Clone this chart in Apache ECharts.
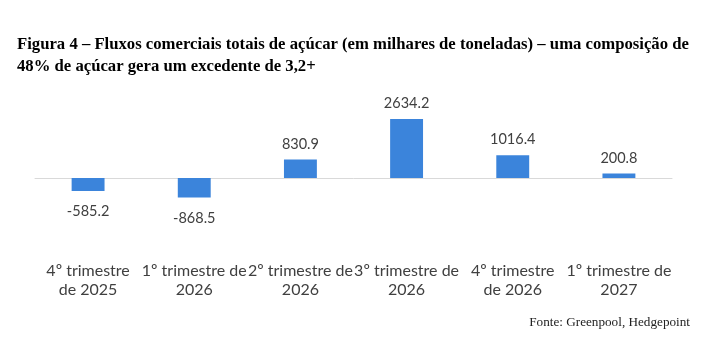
<!DOCTYPE html>
<html>
<head>
<meta charset="utf-8">
<script src="https://cdn.jsdelivr.net/npm/echarts@6/dist/echarts.min.js"></script>
<style>
  html, body { margin: 0; padding: 0; background: #fff; }
  #chart { width: 708px; height: 347px; }
</style>
</head>
<body>
<div id="chart"></div>
<script>
// Trade flow per quarter (thousand tonnes)
const categories = [
  '4º trimestre\nde 2025',
  '1º trimestre de\n2026',
  '2º trimestre de\n2026',
  '3º trimestre de\n2026',
  '4º trimestre\nde 2026',
  '1º trimestre de\n2027'
];
const values = [-585.2, -868.5, 830.9, 2634.2, 1016.4, 200.8];

const titleText = 'Figura 4 – Fluxos comerciais totais de açúcar (em milhares de toneladas) – uma composição de\n48% de açúcar gera um excedente de 3,2+';
const sourceText = 'Fonte: Greenpool, Hedgepoint';

const chart = echarts.init(document.getElementById('chart'), null, { renderer: 'canvas' });

const sansFont = 'Lato, "Noto Sans", sans-serif';
const serifFont = '"Liberation Serif", "Times New Roman", serif';

chart.setOption({
  animation: false,
  backgroundColor: '#ffffff',
  title: [
    {
      text: titleText,
      left: 17,
      top: 34,
      padding: 0,
      textStyle: {
        fontFamily: serifFont,
        fontWeight: 'bold',
        fontSize: 16.7,
        lineHeight: 22,
        color: '#000000'
      }
    },
    {
      text: sourceText,
      right: 18,
      top: 316,
      padding: 0,
      textStyle: {
        fontFamily: serifFont,
        fontWeight: 'normal',
        fontSize: 13.2,
        color: '#222222'
      }
    }
  ],
  grid: { left: 35, right: 36, top: 110.8, bottom: 146.6 },
  xAxis: {
    type: 'category',
    data: categories,
    axisLine: { show: true, onZero: true, lineStyle: { color: '#d9d9d9', width: 1 } },
    axisTick: { show: false },
    axisLabel: {
      interval: 0,
      margin: 61,
      fontFamily: sansFont,
      fontSize: 16,
      lineHeight: 19,
      color: '#404040'
    }
  },
  yAxis: {
    type: 'value',
    min: -1000,
    max: 3000,
    show: false,
    splitLine: { show: false }
  },
  series: [{
    type: 'bar',
    barWidth: '31%',
    data: values.map(v => ({
      value: v,
      label: {
        show: true,
        position: v < 0 ? 'bottom' : 'top',
        distance: v < 0 ? 13 : 8
      }
    })),
    itemStyle: { color: '#3b84db' },
    label: {
      show: true,
      fontFamily: sansFont,
      fontSize: 14.5,
      color: '#404040',
      formatter: p => p.value.toFixed(1)
    }
  }]
});
</script>
</body>
</html>
